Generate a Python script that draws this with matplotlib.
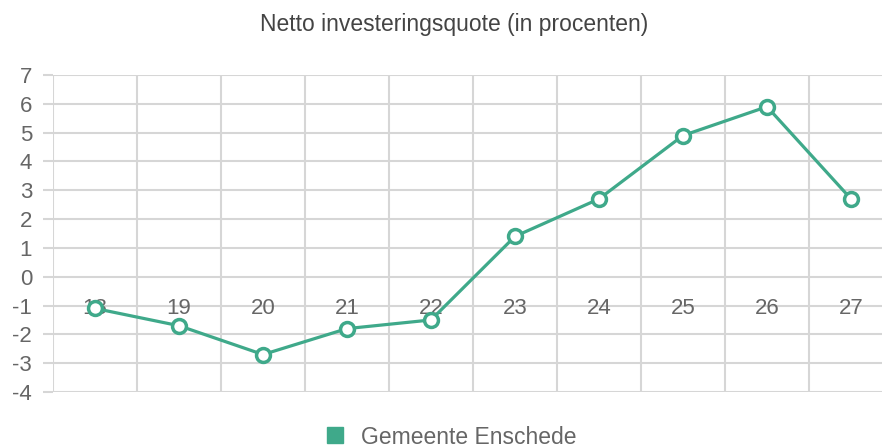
import matplotlib
matplotlib.use("Agg")
import matplotlib.pyplot as plt
from matplotlib.lines import Line2D

plt.rcParams['font.family'] = ['Liberation Sans', 'DejaVu Sans']

years = ['18', '19', '20', '21', '22', '23', '24', '25', '26', '27']
enschede = [-1.1, -1.7, -2.7, -1.8, -1.5, 1.4, 2.7, 4.9, 5.9, 2.7]
y_ticks = list(range(-4, 8))

line_color = '#3fa98a'
grid_color = '#d6d6d6'
text_color = '#666666'

fig = plt.figure(figsize=(8.82, 4.48), dpi=100)
ax = fig.add_axes([53 / 882, 1 - 392 / 448, 1 - 53 / 882, (392 - 75) / 448])

x = list(range(len(years)))
ax.plot(x, enschede, color=line_color, lw=2.3, marker='o', ms=10,
        mfc='white', mec=line_color, mew=2.5, zorder=5, clip_on=False)

ax.set_ylim(-4, 7)
ax.set_xlim(-0.5, (882 - 53) / 84 - 0.5)
ax.set_yticks(y_ticks)
ax.set_yticklabels([str(v) for v in y_ticks])
ax.set_xticks(x)
ax.set_xticklabels(years)
ax.set_xticks([i - 0.5 for i in range(len(years))], minor=True)

ax.grid(True, axis='y', which='major', color=grid_color, lw=1.5)
ax.grid(True, axis='x', which='minor', color=grid_color, lw=1.5)
ax.grid(False, axis='x', which='major')
ax.set_axisbelow(True)
# category labels sit on top of the horizontal grid lines
ax.xaxis.set_zorder(0.6)

for s in ['top', 'right', 'left']:
    ax.spines[s].set_visible(False)
ax.spines['bottom'].set_position(('data', 0))
ax.spines['bottom'].set_visible(False)

ax.tick_params(axis='y', length=7, width=1.5, color=grid_color, pad=8,
               labelsize=16, labelcolor=text_color)
ax.tick_params(axis='x', which='major', length=0, pad=15,
               labelsize=16, labelcolor=text_color)
ax.tick_params(axis='x', which='minor', length=0)

fig.text(454 / 882, 1 - 25 / 448, 'Netto investeringsquote (in procenten)',
         ha='center', va='center', fontsize=16.5, color='#444444')

handle = Line2D([], [], color=line_color, marker='s', ls='none', ms=11)
fig.legend([handle], ['Gemeente Enschede'], loc='center',
           bbox_to_anchor=(450 / 882, 1 - 437 / 448), frameon=False,
           fontsize=16.5, labelcolor=text_color, handletextpad=0.6,
           handlelength=1.0)

fig.savefig('out.png', dpi=100, facecolor='white')
